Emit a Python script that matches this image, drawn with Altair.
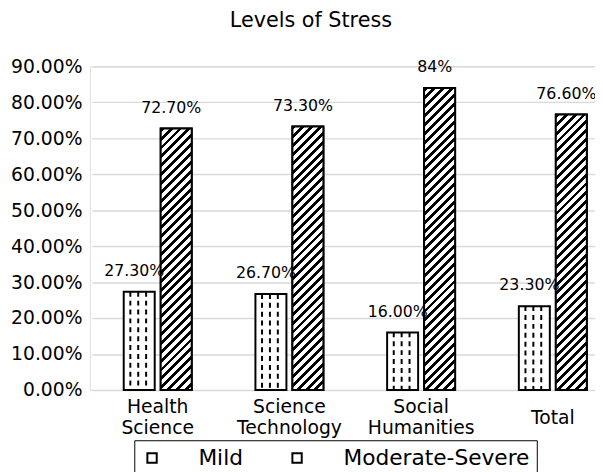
import altair as alt
import pandas as pd

categories = ["Health Science", "Science Technology", "Social Humanities", "Total"]
series = ["Mild", "Moderate-Severe"]
mild = [27.3, 26.7, 16.0, 23.3]
moderate = [72.7, 73.3, 84.0, 76.6]
mild_labels = ["27.30%", "26.70%", "16.00%", "23.30%"]
moderate_labels = ["72.70%", "73.30%", "84%", "76.60%"]
y_ticks = [0, 10, 20, 30, 40, 50, 60, 70, 80, 90]

rows = []
for c, v, l in zip(categories, mild, mild_labels):
    rows.append({"category": c, "series": "Mild", "value": v, "label": l})
for c, v, l in zip(categories, moderate, moderate_labels):
    rows.append({"category": c, "series": "Moderate-Severe", "value": v, "label": l})
df = pd.DataFrame(rows)

FONT = "DejaVu Sans"
W, H = 512, 328
YMAX = 90
R0, R1 = 2, 536
BAND = (R1 - R0) / 4
# sub-band layout inside each category band
PI, PO = 0.162, 0.8615
STEP = BAND / (2 - PI + 2 * PO)
BAR_W = STEP * (1 - PI)
MILD_CENTER = PO * STEP + BAR_W / 2          # px from start of category band

x_axis = alt.Axis(title=None, labelAngle=0, ticks=False, domain=False,
                  labelExpr="split(datum.value, ' ')",
                  labelFontSize=19, labelFont=FONT, labelColor="black",
                  labelBaseline="middle", labelLineHeight=21,
                  labelPadding={"condition": {"test": "datum.value == 'Total'", "value": 28},
                                "value": 17})
x_scale = alt.Scale(range=[R0, R1], paddingInner=0, paddingOuter=0)
x_enc = alt.X("category:N", sort=categories, scale=x_scale, axis=x_axis)
xo_enc = alt.XOffset("series:N", sort=series,
                     scale=alt.Scale(paddingInner=PI, paddingOuter=PO))
y_enc = alt.Y("value:Q", scale=alt.Scale(domain=[0, YMAX], nice=False),
              axis=alt.Axis(title=None, values=y_ticks, ticks=False, domain=False,
                            labelExpr="format(datum.value, '.2f') + '%'",
                            labelFontSize=19, labelFont=FONT, labelColor="black",
                            labelPadding=8, gridColor="#d9d9d9", gridWidth=1.5))

base = alt.Chart(df)

bars = base.mark_bar(stroke="black", strokeWidth=2).encode(
    x=x_enc, xOffset=xo_enc, y=y_enc,
    fill=alt.Fill("series:N", sort=series,
                  scale=alt.Scale(domain=series, range=["white", "white"]),
                  legend=alt.Legend(title=None, orient="none", legendX=45, legendY=379,
                                    direction="horizontal", symbolType="square",
                                    symbolSize=90, symbolStrokeColor="black",
                                    symbolStrokeWidth=2, labelFontSize=22, labelFont=FONT,
                                    labelColor="black", labelOffset=36, columnPadding=43,
                                    labelLimit=400, strokeColor="black", padding=7)),
)

layers = [bars]

# dashed vertical pattern for Mild bars
for d in [-9, -1, 7]:
    layers.append(
        base.transform_filter(alt.datum.series == "Mild").mark_rule(
            color="black", strokeWidth=2, strokeDash=[5, 4]
        ).encode(
            x=alt.X("category:N", sort=categories, scale=x_scale, axis=x_axis,
                    bandPosition=(MILD_CENTER + d) / BAND),
            y=y_enc, y2=alt.datum(0))
    )

# diagonal hatch for Moderate-Severe bars
P = 9.0
BW = 4.0
for c, v in zip(categories, moderate):
    h = v / YMAX * H
    w = BAR_W
    S = w + h
    k = (w + h) / (w * w + h * h)
    stops = []
    i = 0
    while i * P < S:
        a = min(i * P / S, 1.0)
        b = min((i * P + BW) / S, 1.0)
        stops += [{"offset": a, "color": "white"}, {"offset": a, "color": "black"},
                  {"offset": b, "color": "black"}, {"offset": b, "color": "white"}]
        i += 1
    grad = {"gradient": "linear", "x1": 0, "y1": 0, "x2": w * k, "y2": h * k, "stops": stops}
    layers.append(
        base.transform_filter(
            (alt.datum.series == "Moderate-Severe") & (alt.datum.category == c)
        ).mark_bar(fill=grad, stroke="black", strokeWidth=2).encode(
            x=x_enc, xOffset=xo_enc, y=y_enc)
    )

labels = base.mark_text(font=FONT, fontSize=16, color="black", dx=-5, dy=-21,
                        baseline="middle").encode(
    x=x_enc, xOffset=xo_enc, y=y_enc, text="label:N")
layers.append(labels)

chart = alt.layer(*layers).properties(
    width=W, height=H,
    title=alt.TitleParams("Levels of Stress", fontSize=21, font=FONT, fontWeight="normal",
                          color="black", frame="group", offset=10, dx=-32,
                          baseline="alphabetic"),
    autosize=alt.AutoSizeParams(type="none"),
    padding={"left": 83, "top": 56, "right": 0, "bottom": 80},
).configure_view(stroke=None).configure(background="white")

chart.save("out.html", embed_options={"renderer": "svg", "actions": False})
